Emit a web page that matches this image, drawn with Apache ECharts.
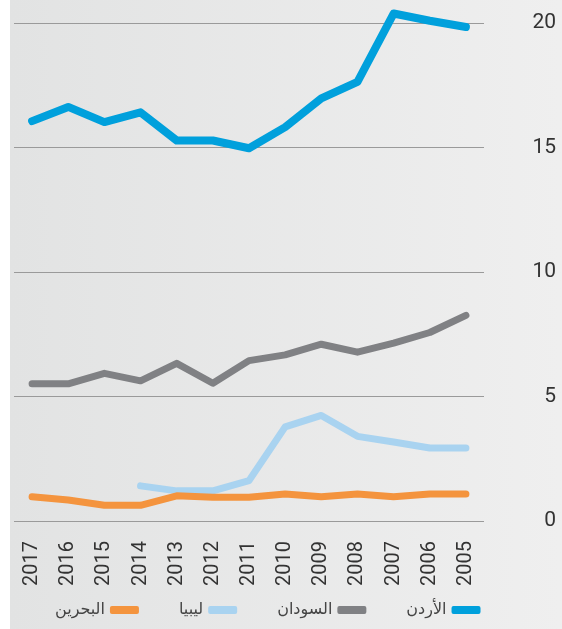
<!DOCTYPE html>
<html><head><meta charset="utf-8">
<script src="https://cdn.jsdelivr.net/npm/echarts@6/dist/echarts.min.js"></script>
<style>html,body{margin:0;padding:0;background:#fff}#c{width:562px;height:629px}</style>
</head><body><div id="c"></div>
<script>
const years = ['2017','2016','2015','2014','2013','2012','2011','2010','2009','2008','2007','2006','2005'];
const jordan = [16.06,16.63,16.02,16.41,15.28,15.28,14.97,15.82,16.97,17.64,20.38,20.09,19.84];
const sudan = [5.51,5.51,5.93,5.63,6.33,5.53,6.44,6.67,7.10,6.78,7.14,7.57,8.26];
const libya = [null,null,null,1.41,1.21,1.21,1.62,3.78,4.24,3.40,3.17,2.93,2.93];
const bahrain = [0.97,0.84,0.63,0.63,1.01,0.95,0.95,1.08,0.97,1.08,0.97,1.08,1.08];
const names = ['الأردن','السودان','ليبيا','البحرين'];
const yTicks = [0,5,10,15,20];

const FONT = '"Roboto", sans-serif';
const chart = echarts.init(document.getElementById('c'));
function ser(name, data, color, w){
  return {name, type:'line', data, symbol:'none', clip:false, connectNulls:false,
    lineStyle:{color, width:w, cap:'round', join:'round'}, itemStyle:{color}};
}
chart.setOption({
  animation:false,
  graphic:[{type:'rect', z:-100, silent:true, shape:{x:10,y:0,width:552,height:629},
    style:{fill:new echarts.graphic.LinearGradient(0,0,1,0,[{offset:0,color:'#e2e3e3'},{offset:1,color:'#efefef'}])}}],
  grid:{left:14, right:78, top:23, bottom:108},
  xAxis:{type:'category', data:years, boundaryGap:true,
    axisLine:{show:false}, axisTick:{show:false},
    axisLabel:{rotate:90, margin:20, color:'#333', fontSize:20, fontFamily:FONT, interval:0}},
  yAxis:{type:'value', position:'right', min:0, max:20, interval:5,
    axisLine:{show:false}, axisTick:{show:false},
    splitLine:{show:true, lineStyle:{color:'#9a9a9a', width:1}},
    axisLabel:{align:'right', margin:72, color:'#333', fontSize:21, fontFamily:FONT,
      formatter:v=>yTicks.includes(v)?String(v):''}},
  legend:{data:['البحرين','ليبيا','السودان','الأردن'], top:597, left:50, align:'right',
    icon:'roundRect', itemWidth:29, itemHeight:8, itemGap:40,
    textStyle:{fontSize:16, color:'#444', fontFamily:'"DejaVu Sans", sans-serif'}},
  series:[
    ser(names[0], jordan, '#00a0dc', 8),
    ser(names[1], sudan, '#808184', 7),
    ser(names[2], libya, '#a9d3f0', 7),
    ser(names[3], bahrain, '#f4943e', 7)
  ]
});
</script></body></html>
